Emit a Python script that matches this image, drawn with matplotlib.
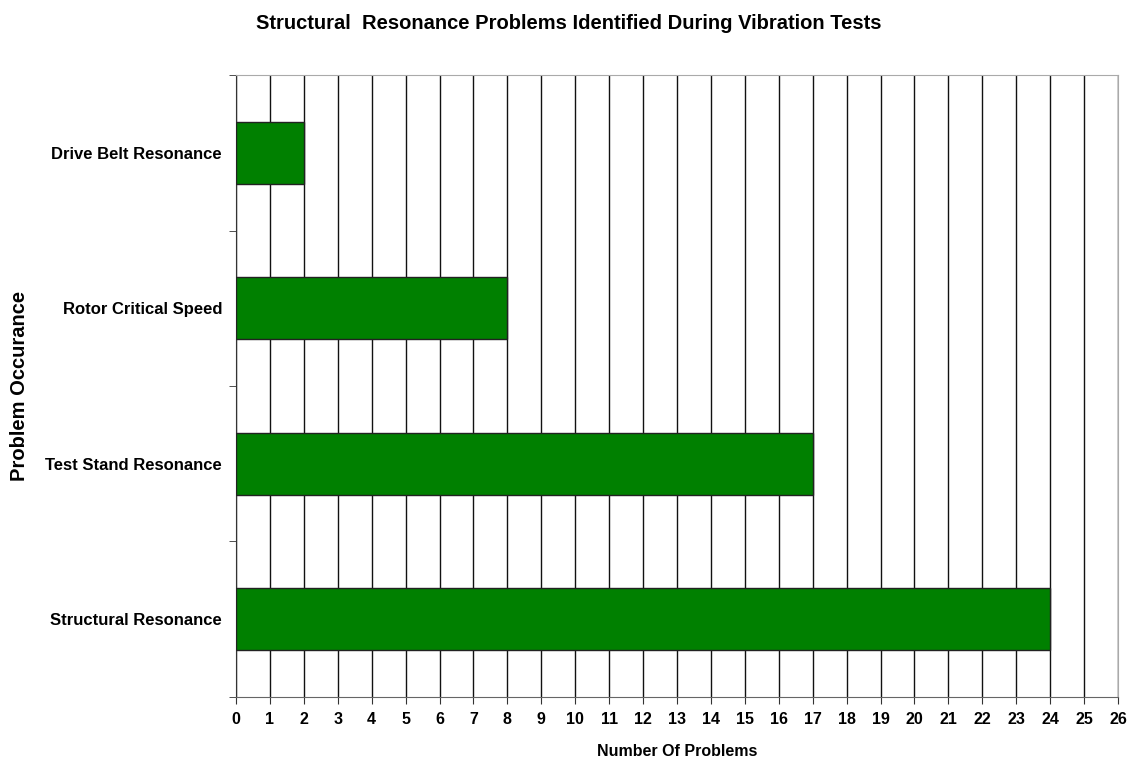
import matplotlib
matplotlib.use('Agg')
import matplotlib.pyplot as plt
from matplotlib.ticker import MultipleLocator, FixedLocator

plt.rcParams['font.family'] = ['Liberation Sans', 'DejaVu Sans']
plt.rcParams['font.weight'] = 'bold'

# dados
categorias = ['Structural Resonance', 'Test Stand Resonance', 'Rotor Critical Speed', 'Drive Belt Resonance']
problemas = [24, 17, 8, 2]

fig = plt.figure(figsize=(11.3, 7.58), dpi=100)
ax = fig.add_axes([0.2088, 0.0805, 0.7806, 0.8205])

pos = list(range(len(categorias)))
ax.barh(pos, problemas, height=0.4, color='#008000', edgecolor='#222222', linewidth=1, zorder=3)

ax.set_xlim(0, 26)
ax.set_ylim(-0.5, len(categorias) - 0.5)
ax.xaxis.set_major_locator(MultipleLocator(1))
ax.grid(axis='x', color='#111111', linewidth=1, zorder=1)
ax.set_axisbelow(True)

ax.set_yticks(pos)
ax.set_yticklabels(categorias, fontsize=12, fontweight='bold')
ax.yaxis.set_minor_locator(FixedLocator([p - 0.5 for p in pos] + [len(pos) - 0.5]))
ax.tick_params(axis='y', which='major', length=0, pad=10)
ax.tick_params(axis='y', which='minor', length=5, color='#333333')
ax.tick_params(axis='x', length=5, color='#333333', labelsize=11.5, pad=6)
for lbl in ax.get_xticklabels():
    lbl.set_fontweight('bold')

for lado in ['top', 'right']:
    ax.spines[lado].set_color('#aaaaaa')
ax.spines['bottom'].set_color('#666666')
ax.spines['left'].set_color('#333333')

ax.set_xlabel('Number Of Problems', fontsize=11.5, fontweight='bold', labelpad=12)
ax.set_ylabel('Problem Occurance', fontsize=14.5, fontweight='bold', labelpad=12)
fig.suptitle('Structural  Resonance Problems Identified During Vibration Tests', fontsize=14.5,
             fontweight='bold', x=0.503, y=0.981)

plt.savefig('out.png', dpi=100)
